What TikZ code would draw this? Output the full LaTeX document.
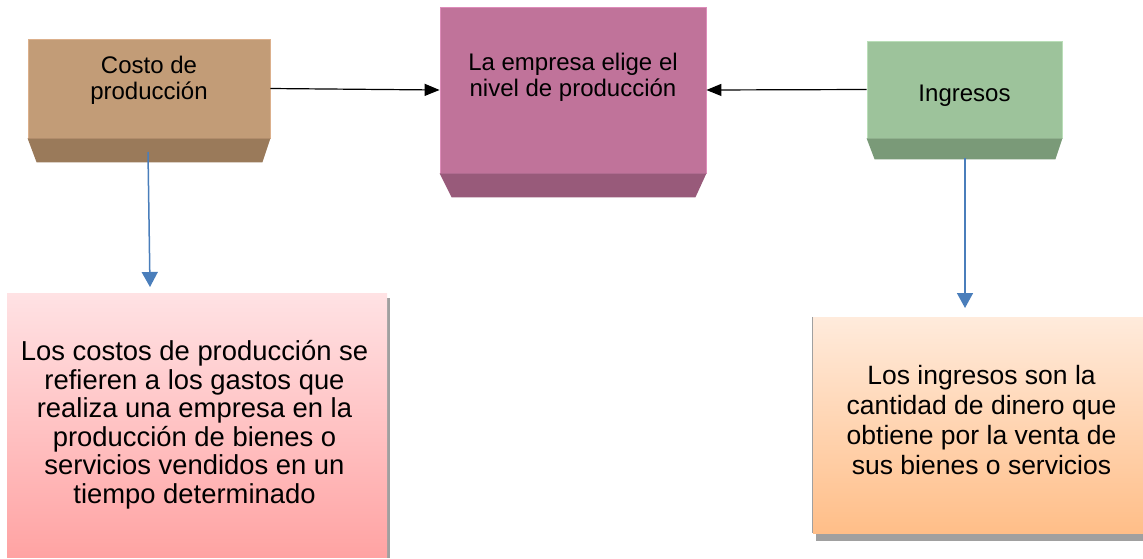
\documentclass[tikz,border=0pt]{standalone}
\usepackage{fontspec}
\setmainfont{Liberation Sans}
\usetikzlibrary{arrows.meta,calc}
\definecolor{tanface}{RGB}{194,156,119}
\definecolor{tanbevel}{RGB}{154,122,90}
\definecolor{tanedge}{RGB}{220,176,140}
\definecolor{pinkface}{RGB}{192,115,154}
\definecolor{pinkbevel}{RGB}{152,90,122}
\definecolor{pinkedge}{RGB}{222,140,186}
\definecolor{greenface}{RGB}{157,195,155}
\definecolor{greenbevel}{RGB}{122,154,120}
\definecolor{greenedge}{RGB}{186,222,184}
\definecolor{rosetop}{RGB}{255,226,228}
\definecolor{rosebot}{RGB}{255,163,163}
\definecolor{peachtop}{RGB}{255,235,220}
\definecolor{peachbot}{RGB}{255,190,136}
\definecolor{shadowgray}{RGB}{160,160,160}
\definecolor{arrowblue}{RGB}{74,126,187}
\tikzset{
  face/.style={rectangle, inner sep=0pt, line width=0.8pt},
  smalltxt/.style={font=\fontsize{24}{26.5}\selectfont, align=center, inner sep=0pt},
  bigtxt/.style={font=\fontsize{27.4}{28.5}\selectfont, align=center, inner sep=0pt},
  blackarrow/.style={line width=1.2pt, -{Triangle[length=15pt,width=12pt]}},
  bluearrow/.style={draw=arrowblue, line width=1.5pt, -{Triangle[length=15pt,width=16pt]}, arrowblue},
}
\begin{document}
\begin{tikzpicture}[x=1pt,y=-1pt]
\useasboundingbox (0,0) rectangle (1143,558);
% Costo de produccion
\node[face, fill=tanface, draw=tanedge, minimum width=242pt, minimum height=99pt] (costo) at (149,88.5) {};
\fill[tanbevel] (costo.south west) -- (costo.south east) -- ++(-8,24) -- ($(costo.south west)+(9,24)$) -- cycle;
\node[smalltxt] (costotxt) at (149,80.5) {Costo de\\producción};
% La empresa
\node[face, fill=pinkface, draw=pinkedge, minimum width=266pt, minimum height=166pt] (emp) at (573,90) {};
\fill[pinkbevel] (emp.south west) -- (emp.south east) -- ++(-11,24) -- ($(emp.south west)+(12,24)$) -- cycle;
\node[smalltxt] (emptxt) at (573,77.5) {La empresa elige el\\nivel de producción};
% Ingresos
\node[face, fill=greenface, draw=greenedge, minimum width=195pt, minimum height=97pt] (ing) at (964.5,89.5) {};
\fill[greenbevel] (ing.south west) -- (ing.south east) -- ++(-7,21) -- ($(ing.south west)+(8,21)$) -- cycle;
\node[smalltxt, anchor=base] (ingtxt) at (964.5,101) {Ingresos};
% lower left box
\fill[shadowgray] (387,298) rectangle (390,558);
\node[rectangle, inner sep=0pt, top color=rosetop, bottom color=rosebot, minimum width=380pt, minimum height=264pt] (costdef) at (197,425) {};
\node[bigtxt] (costdeftxt) at (194.5,424.5) {Los costos de producción se\\refieren a los gastos que\\realiza una empresa en la\\producción de bienes o\\servicios vendidos en un\\tiempo determinado};
% lower right box
\fill[shadowgray] (816,533) rectangle (1143,541);
\node[rectangle, inner sep=0pt, top color=peachtop, bottom color=peachbot, minimum width=330pt, minimum height=216pt] (ingdef) at (978,425) {};
\draw[shadowgray, line width=1pt] (ingdef.north west) -- (ingdef.south west);
\node[bigtxt, font=\fontsize{26.5}{29.7}\selectfont] (ingdeftxt) at (981.5,420) {Los ingresos son la\\cantidad de dinero que\\obtiene por la venta de\\sus bienes o servicios};
% connectors
\draw[blackarrow] (costo.east) -- (emp.west);
\draw[blackarrow] (ing.west) -- (emp.east);
\coordinate (b1s) at (148,152);
\coordinate (b1e) at (150,287);
\coordinate (b2s) at (965,158);
\coordinate (b2e) at (965,308);
\draw[bluearrow] (b1s) -- (b1e);
\draw[bluearrow] (b2s) -- (b2e);
\end{tikzpicture}
\end{document}
